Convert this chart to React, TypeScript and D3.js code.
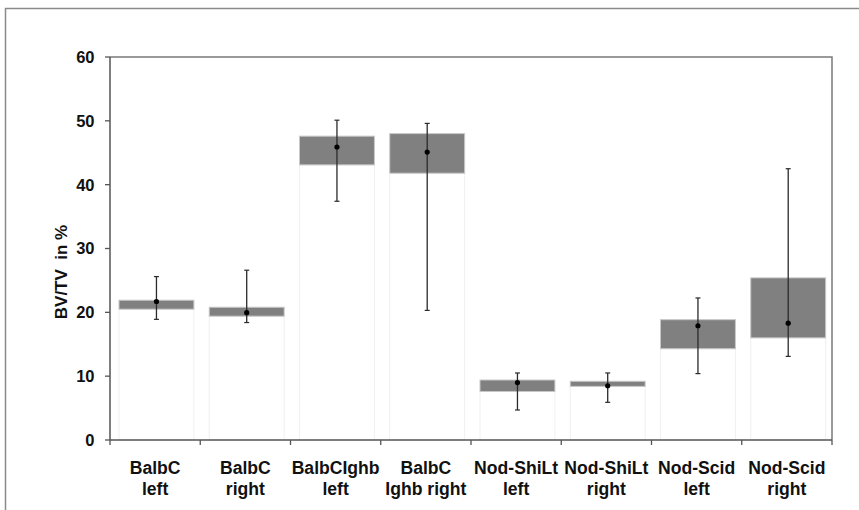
import React from 'react';
import * as d3 from 'd3';

const categories = [
  ['BalbC', 'left'],
  ['BalbC', 'right'],
  ['BalbCIghb', 'left'],
  ['BalbC', 'Ighb right'],
  ['Nod-ShiLt', 'left'],
  ['Nod-ShiLt', 'right'],
  ['Nod-Scid', 'left'],
  ['Nod-Scid', 'right'],
];
const boxLow = [20.5, 19.4, 43.1, 41.8, 7.6, 8.4, 14.3, 16.0];
const boxHigh = [21.9, 20.8, 47.6, 48.0, 9.4, 9.2, 18.85, 25.4];
const means = [21.7, 19.95, 45.9, 45.1, 9.0, 8.5, 17.9, 18.3];
const errLow = [18.9, 18.4, 37.4, 20.3, 4.7, 5.9, 10.4, 13.1];
const errHigh = [25.6, 26.6, 50.1, 49.6, 10.5, 10.5, 22.25, 42.5];
const yTicks = [0, 10, 20, 30, 40, 50, 60];

const W = 859;
const H = 510;
const left = 110;
const right = 832;
const top = 57;
const bottom = 440;
const font = 'Liberation Sans, Arial, sans-serif';

export default function App() {
  const x = d3.scaleBand<number>().domain(d3.range(categories.length)).range([left, right]).paddingInner(0);
  const y = d3.scaleLinear().domain([0, 60]).range([bottom, top]);
  const bw = x.bandwidth();
  const inset = 9;
  const boxW = bw * 0.83;

  return (
    <svg width={W} height={H} style={{ position: 'absolute', left: 0, top: 0, background: '#fff' }}>
      {/* outer frame */}
      <path d={`M5.5,${H} L5.5,8.5 L${W},8.5`} fill="none" stroke="#8a8a8a" strokeWidth={1.5} />

      {/* plot border top/right */}
      <path d={`M${left},${top} L${right},${top} L${right},${bottom}`} fill="none" stroke="#7a7a7a" strokeWidth={1.5} />

      {categories.map((_, i) => {
        const x0 = (x(i) as number) + inset;
        const cx = x0 + boxW / 2;
        return (
          <g key={i}>
            <rect x={x0} y={y(boxLow[i])} width={boxW} height={y(0) - y(boxLow[i])} fill="#fff" stroke="#f0f0f0" strokeWidth={1} />
            <rect x={x0} y={y(boxHigh[i])} width={boxW} height={y(boxLow[i]) - y(boxHigh[i])} fill="#808080" stroke="#c8c8c8" strokeWidth={1} />
            <line x1={cx} x2={cx} y1={y(errLow[i])} y2={y(errHigh[i])} stroke="#2a2a2a" strokeWidth={1.3} />
            <line x1={cx - 2.5} x2={cx + 2.5} y1={y(errLow[i])} y2={y(errLow[i])} stroke="#2a2a2a" strokeWidth={1.2} />
            <line x1={cx - 2.5} x2={cx + 2.5} y1={y(errHigh[i])} y2={y(errHigh[i])} stroke="#2a2a2a" strokeWidth={1.2} />
            <circle cx={cx} cy={y(means[i])} r={2.6} fill="#000" />
          </g>
        );
      })}

      {/* y axis */}
      <line x1={left} x2={left} y1={top} y2={bottom} stroke="#555" strokeWidth={1.5} />
      {yTicks.map((t) => (
        <g key={t}>
          <line x1={left - 5} x2={left} y1={y(t)} y2={y(t)} stroke="#555" strokeWidth={1.3} />
          <text x={94.5} y={y(t)} dy="0.36em" textAnchor="end" fontFamily={font} fontWeight="bold" fontSize={16.5} fill="#111">
            {t}
          </text>
        </g>
      ))}
      <text
        transform={`translate(67,272) rotate(-90)`}
        textAnchor="middle"
        fontFamily={font}
        fontWeight="bold"
        fontSize={17}
        fill="#111"
        style={{ whiteSpace: 'pre' }}
      >
        {'BV/TV  in %'}
      </text>

      {/* x axis */}
      <line x1={left} x2={right} y1={bottom} y2={bottom} stroke="#555" strokeWidth={1.5} />
      {d3.range(categories.length + 1).map((i) => {
        const tx = left + i * bw;
        return <line key={i} x1={tx} x2={tx} y1={bottom} y2={bottom + 5} stroke="#555" strokeWidth={1.3} />;
      })}
      {categories.map((c, i) => {
        const cx = (x(i) as number) + bw / 2;
        return (
          <text key={i} x={cx} textAnchor="middle" fontFamily={font} fontWeight="bold" fontSize={17.6} fill="#111">
            <tspan x={cx} y={474}>{c[0]}</tspan>
            <tspan x={cx} y={495}>{c[1]}</tspan>
          </text>
        );
      })}
    </svg>
  );
}
